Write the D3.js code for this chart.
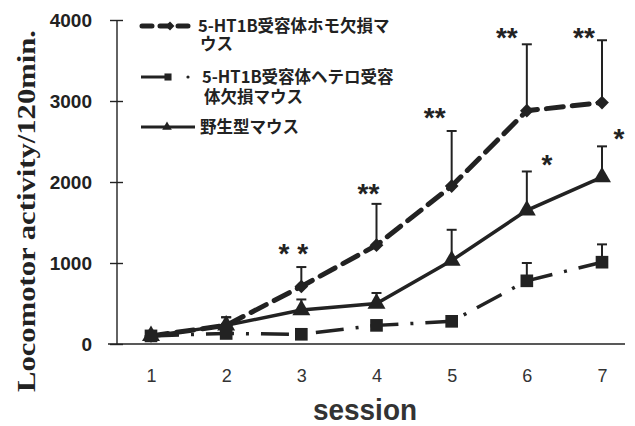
<!DOCTYPE html>
<html>
<head>
<meta charset="utf-8">
<script src="https://cdn.jsdelivr.net/npm/d3@7"></script>
<style>
  html, body { margin: 0; padding: 0; background: #fff; }
  svg { display: block; }
</style>
</head>
<body>
<svg id="chart" width="635" height="426"></svg>
<script>
// ---- data ----
const sessions = [1, 2, 3, 4, 5, 6, 7];
const homoMean   = [100, 230, 710, 1220, 1950, 2880, 2980];
const homoTop    = [130, 330, 950, 1730, 2630, 3700, 3750];
const heteroMean = [100, 130, 120, 230, 280, 780, 1010];
const heteroTop  = [120, 150, 140, 260, 310, 1000, 1230];
const wildMean   = [100, 230, 420, 500, 1030, 1650, 2060];
const wildTop    = [130, 330, 550, 630, 1410, 2130, 2440];
const yTicks = [0, 1000, 2000, 3000, 4000];
const legendLines = [
  ["5-HT1B受容体ホモ欠損マ", "ウス"],
  ["5-HT1B受容体ヘテロ受容", "体欠損マウス"],
  ["野生型マウス"]
];
// significance marks
const sigSessions = [3, 4, 5, 6, 7, 6, 7];
const sigLabels   = ["* *", "**", "**", "**", "**", "*", "*"];
const sigValues   = [1190, 1930, 2860, 3850, 3850, 2280, 2610];
const sigOffset   = [-8, -8, -17, -20, -18, 20, 17];

// ---- layout ----
const svg = d3.select("#chart");
const ink = "#222";
const x = d3.scaleLinear().domain([1, 7]).range([151, 602]);
const y = d3.scaleLinear().domain([0, 4000]).range([344, 20]);
const axisX = 117;

// axes
svg.append("line").attr("x1", 108).attr("x2", 625).attr("y1", y(0)).attr("y2", y(0))
  .attr("stroke", ink).attr("stroke-width", 1.6);
svg.append("line").attr("x1", axisX).attr("x2", axisX).attr("y1", y(4000)).attr("y2", y(0))
  .attr("stroke", ink).attr("stroke-width", 1.4);
const yAxis = d3.axisLeft(y).tickValues(yTicks).tickSize(0).tickPadding(0).tickFormat(d3.format("d"));
const gy = svg.append("g").attr("transform", `translate(${axisX},0)`).call(yAxis);
gy.select(".domain").remove();
gy.selectAll(".tick line").remove();
gy.selectAll(".tick").append("line").attr("x1", -7).attr("x2", 6)
  .attr("stroke", ink).attr("stroke-width", 1.4);
gy.selectAll(".tick text").attr("x", -25).attr("dy", "0.36em")
  .attr("font-family", "Liberation Sans, Arial, sans-serif").attr("font-weight", "bold")
  .attr("font-size", 19).attr("fill", ink);

const xAxis = d3.axisBottom(x).tickValues(sessions).tickSize(0).tickPadding(0).tickFormat(d3.format("d"));
const gx = svg.append("g").attr("transform", `translate(0,${y(0)})`).call(xAxis);
gx.select(".domain").remove();
gx.selectAll(".tick text").attr("y", 38).attr("dy", "0")
  .attr("font-family", "Liberation Sans, Arial, sans-serif")
  .attr("font-size", 18).attr("fill", "#333");

// axis titles
svg.append("text").attr("x", 365).attr("y", 420).attr("text-anchor", "middle")
  .attr("font-family", "Liberation Sans, Arial, sans-serif").attr("font-weight", "bold")
  .attr("font-size", 30).attr("fill", "#333").attr("textLength", 104).attr("lengthAdjust", "spacingAndGlyphs")
  .text("session");
svg.append("text").attr("transform", "translate(35,211) rotate(-90)").attr("text-anchor", "middle")
  .attr("font-family", "Liberation Serif, Times New Roman, serif").attr("font-weight", "bold")
  .attr("font-size", 25).attr("fill", ink).attr("textLength", 362).attr("lengthAdjust", "spacingAndGlyphs")
  .text("Locomotor activity/120min.");

// series
const series = [
  { mean: homoMean, top: homoTop, dash: "17,9", width: 5, cap: "round", sym: d3.symbolDiamond2, size: 120 },
  { mean: heteroMean, top: heteroTop, dash: "28,12,3,12", width: 3.5, cap: "butt", sym: d3.symbolSquare, size: 160 },
  { mean: wildMean, top: wildTop, dash: null, width: 3.5, cap: "butt", sym: d3.symbolTriangle, size: 140 }
];
const line = d3.line().x((d, i) => x(sessions[i])).y(d => y(d));

series.forEach(s => {
  const eb = svg.append("g");
  s.top.forEach((t, i) => {
    if (t - s.mean[i] < 60) return;
    eb.append("line").attr("x1", x(sessions[i])).attr("x2", x(sessions[i]))
      .attr("y1", y(s.mean[i])).attr("y2", y(t)).attr("stroke", ink).attr("stroke-width", 2);
    eb.append("line").attr("x1", x(sessions[i]) - 5).attr("x2", x(sessions[i]) + 5)
      .attr("y1", y(t)).attr("y2", y(t)).attr("stroke", ink).attr("stroke-width", 2);
  });
});
series.forEach(s => {
  svg.append("path").datum(s.mean).attr("d", line).attr("fill", "none")
    .attr("stroke", ink).attr("stroke-width", s.width).attr("stroke-linecap", s.cap)
    .attr("stroke-dasharray", s.dash);
  svg.append("g").selectAll("path").data(s.mean).join("path")
    .attr("transform", (d, i) => `translate(${x(sessions[i])},${y(d)})`)
    .attr("d", d3.symbol().type(s.sym).size(s.size)).attr("fill", ink);
});

// significance marks
svg.append("g").selectAll("text").data(sigLabels).join("text")
  .attr("x", (d, i) => x(sigSessions[i]) + sigOffset[i])
  .attr("y", (d, i) => y(sigValues[i]) + 15)
  .attr("text-anchor", "middle")
  .attr("font-family", "Liberation Sans, Arial, sans-serif").attr("font-weight", "bold")
  .attr("font-size", 28).attr("fill", ink)
  .text(d => d);

// legend
const lg = svg.append("g");
const rowY = [26, 77, 127];
lg.append("line").attr("x1", 142).attr("x2", 195).attr("y1", rowY[0]).attr("y2", rowY[0])
  .attr("stroke", ink).attr("stroke-width", 5).attr("stroke-linecap", "round").attr("stroke-dasharray", "10,8");
lg.append("path").attr("transform", `translate(170,${rowY[0]})`)
  .attr("d", d3.symbol().type(d3.symbolDiamond2).size(50)).attr("fill", ink);
lg.append("line").attr("x1", 141).attr("x2", 166).attr("y1", rowY[1]).attr("y2", rowY[1])
  .attr("stroke", ink).attr("stroke-width", 3);
lg.append("path").attr("transform", `translate(168,${rowY[1]})`)
  .attr("d", d3.symbol().type(d3.symbolSquare).size(50)).attr("fill", ink);
lg.append("circle").attr("cx", 188).attr("cy", rowY[1]).attr("r", 1.6).attr("fill", ink);
lg.append("line").attr("x1", 141).attr("x2", 195).attr("y1", rowY[2]).attr("y2", rowY[2])
  .attr("stroke", ink).attr("stroke-width", 3);
lg.append("path").attr("transform", `translate(167,${rowY[2]})`)
  .attr("d", d3.symbol().type(d3.symbolTriangle).size(40)).attr("fill", ink);

const textX = [198, 202, 200];
const lineGap = [18, 20, 0];
legendLines.forEach((lines, r) => {
  lines.forEach((s, k) => {
    lg.append("text").attr("font-family", "Noto Sans CJK JP, sans-serif")
      .attr("font-weight", "bold").attr("font-size", 16.5).attr("fill", ink)
      .attr("x", textX[r] + (k > 0 ? 2 : 0)).attr("y", rowY[r] + k * lineGap[r])
      .attr("dy", "0.35em").text(s);
  });
});
</script>
</body>
</html>
